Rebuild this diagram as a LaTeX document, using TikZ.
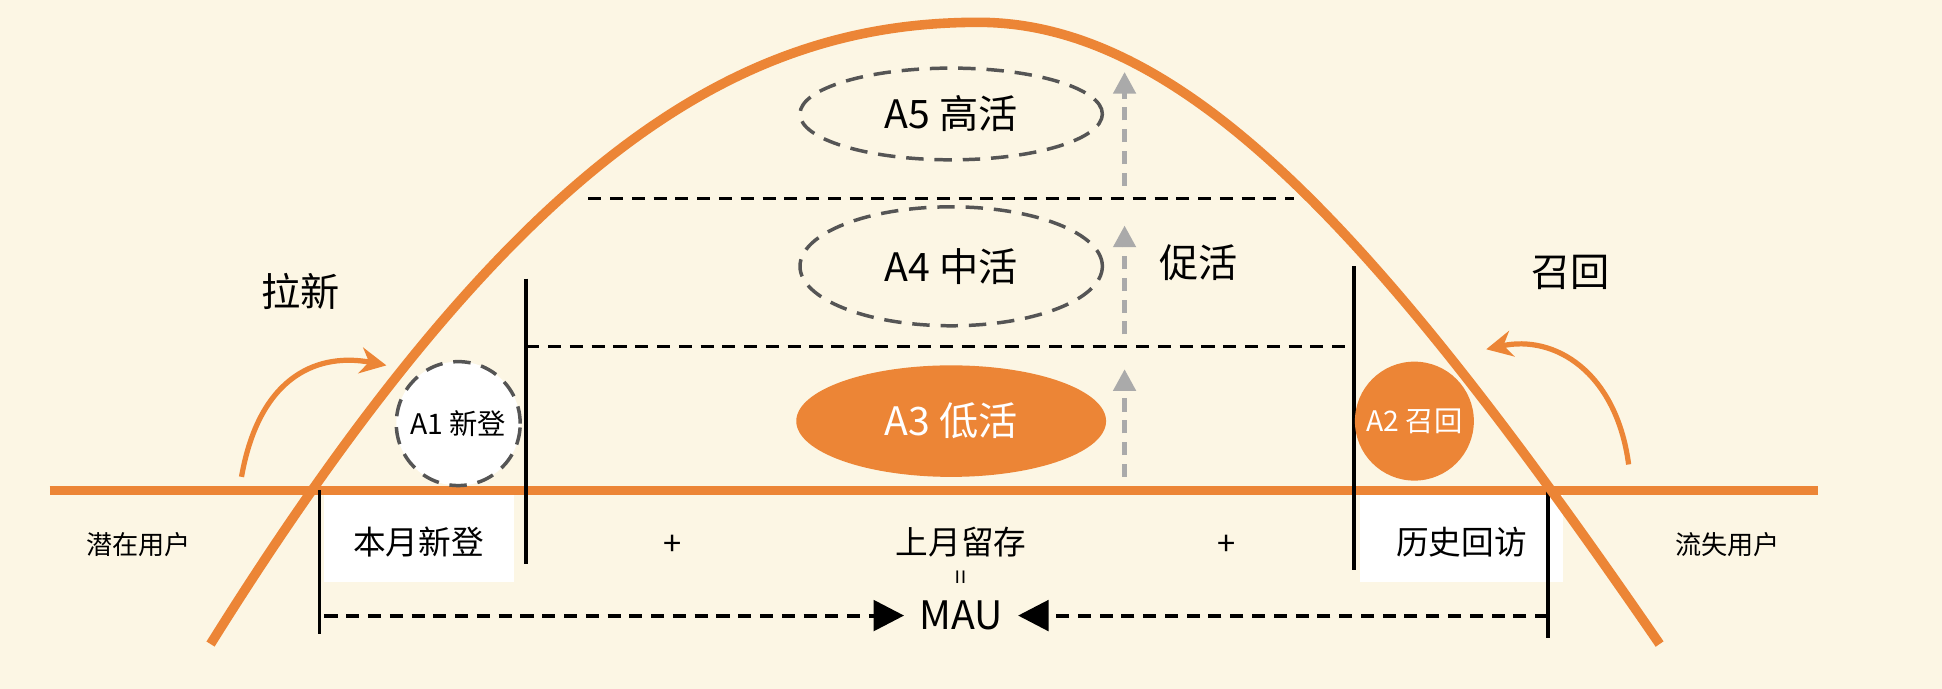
\documentclass[tikz,border=0pt]{standalone}
\usepackage{fontspec}
\setmainfont{Noto Sans CJK SC}
\usetikzlibrary{arrows.meta,shapes.geometric}
\definecolor{bg}{HTML}{FCF6E4}
\definecolor{org}{HTML}{EC8536}
\definecolor{gr}{HTML}{555555}
\definecolor{lg}{HTML}{AAAAAA}
\tikzset{
 big/.style={font=\fontsize{9}{11}\selectfont},
 mid/.style={font=\fontsize{7.5}{9}\selectfont},
 sm/.style={font=\fontsize{6}{7}\selectfont},
 dell/.style={draw=gr,dash pattern=on 4pt off 2.5pt,line width=0.8pt,ellipse,inner sep=0pt},
 hdash/.style={densely dashed,line width=0.7pt},
 uparr/.style={lg,densely dashed,line width=1.2pt,-{Triangle[length=5pt,width=5pt]}},
 oarr/.style={org,line width=1.2pt,-{Stealth[length=6pt,width=6pt]}},
}
\begin{document}
\begin{tikzpicture}[x=0.01cm,y=-0.01cm]
\fill[bg] (0,0) rectangle (1568,556);
\useasboundingbox (0,0) rectangle (1568,556);
% white boxes
\fill[white] (262,400) rectangle (415,470);
\fill[white] (1098,400) rectangle (1262,470);
% baseline
\draw[org,line width=2.2pt] (40,396) -- (1468,396);
% dashed levels
\draw[hdash] (475,160) -- (1045,160);
\draw[hdash] (425,280) -- (1095,280);
% vertical lines
\draw[line width=0.9pt] (425,225) -- (425,455);
\draw[line width=0.9pt] (1093,215) -- (1093,460);
\draw[line width=0.9pt] (258,396) -- (258,512);
\draw[line width=0.9pt] (1250,396) -- (1250,515);
% bell curve
\draw[org,line width=2.2pt] (170,520) .. controls (420,120) and (600,18) .. (790,18)
  .. controls (960,18) and (1120,200) .. (1340,520);
% ellipses
\node[dell,minimum width=2.44cm,minimum height=0.74cm,big] (a5) at (768,92) {A5 高活};
\node[dell,minimum width=2.44cm,minimum height=0.96cm,big] (a4) at (768,215) {A4 中活};
\node[ellipse,fill=org,minimum width=2.5cm,minimum height=0.9cm,big,text=white] (a3) at (768,340) {A3 低活};
\node[circle,draw=gr,dash pattern=on 4pt off 2.5pt,line width=0.8pt,fill=white,minimum size=1cm,inner sep=0pt,font=\fontsize{6.5}{8}\selectfont] (a1) at (370,342) {A1 新登};
\node[circle,fill=org,minimum size=0.96cm,inner sep=0pt,font=\fontsize{6.5}{8}\selectfont,text=white] (a2) at (1142,340) {A2 召回};
% up arrows
\coordinate (u1) at (908,385); \coordinate (u1e) at (908,298);
\coordinate (u2) at (908,270); \coordinate (u2e) at (908,182);
\coordinate (u3) at (908,150); \coordinate (u3e) at (908,58);
\draw[uparr] (u1) -- (u1e);
\draw[uparr] (u2) -- (u2e);
\draw[uparr] (u3) -- (u3e);
% labels
\node[big] (lx) at (243,235) {拉新};
\node[big] (cx) at (968,212) {促活};
\node[big] (zh) at (1268,220) {召回};
\node[sm] (qz) at (112,440) {潜在用户};
\node[sm] (ls) at (1395,440) {流失用户};
\node[mid] (by) at (338,438) {本月新登};
\node[mid] (ls2) at (1180,438) {历史回访};
\node[mid] (p1) at (543,440) {+};
\node[mid] (p2) at (990,440) {+};
\node[mid] (sy) at (776,438) {上月留存};
\node[sm,rotate=90] (eq) at (778,466) {=};
\node[big] (mau) at (776,497) {MAU};
\coordinate (ml) at (262,497);
\coordinate (mr) at (1250,497);
\draw[hdash,line width=0.9pt,-{Triangle[length=7pt,width=7pt]}] (ml) -- (mau.west);
\draw[hdash,line width=0.9pt,-{Triangle[length=7pt,width=7pt]}] (mr) -- (mau.east);
% orange curved arrows
\coordinate (la) at (195,385); \coordinate (lb) at (312,295);
\coordinate (ra) at (1315,375); \coordinate (rb) at (1200,282);
\draw[oarr] (la) .. controls (210,300) and (260,285) .. (lb);
\draw[oarr] (ra) .. controls (1305,300) and (1255,270) .. (rb);
\end{tikzpicture}
\end{document}
